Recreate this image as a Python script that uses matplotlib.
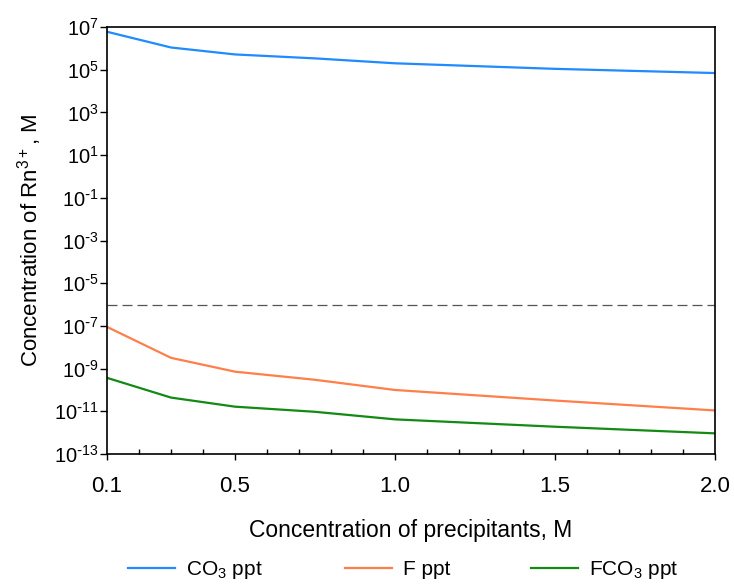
import matplotlib
matplotlib.use("Agg")
import matplotlib.pyplot as plt
from matplotlib.ticker import FixedLocator, MultipleLocator, FuncFormatter, FormatStrFormatter
import numpy as np

plt.rcParams['font.family'] = ['Liberation Sans', 'DejaVu Sans']
plt.rcParams['mathtext.default'] = 'regular'
plt.rcParams['axes.unicode_minus'] = False

# precipitant concentration, M
conc = [0.1, 0.3, 0.5, 0.75, 1.0, 1.5, 2.0]

# remaining Rn3+ concentration for each precipitant, M
co3_ppt = [6.0e6, 1.1e6, 5.2e5, 3.4e5, 2.0e5, 1.1e5, 7.0e4]
f_ppt = [9.0e-8, 3.2e-9, 7.2e-10, 3.0e-10, 1.0e-10, 3.2e-11, 1.1e-11]
fco3_ppt = [3.7e-10, 4.4e-11, 1.65e-11, 9.5e-12, 4.2e-12, 1.9e-12, 9.3e-13]

limit = 1e-6  # dashed reference level
y_ticks = [10.0 ** p for p in range(-13, 8, 2)]
x_ticks = [0.1, 0.5, 1.0, 1.5, 2.0]


def pow10(val, pos):
    # power-of-ten label with a plain hyphen for negative exponents
    e = int(round(np.log10(val)))
    if e < 0:
        return r'$10^{\text{-}%d}$' % (-e)
    return r'$10^{%d}$' % e


fig = plt.figure(figsize=(7.34, 5.85), dpi=100)
ax = fig.add_axes([0.1458, 0.2239, 0.974 - 0.1458, 0.9538 - 0.2239])

ax.plot(conc, co3_ppt, color='#1f8bff', lw=1.6, label='CO$_3$ ppt')
ax.plot(conc, f_ppt, color='#ff7f4a', lw=1.6, label='F ppt')
ax.plot(conc, fco3_ppt, color='#138a13', lw=1.6, label='FCO$_3$ ppt')
ax.axhline(limit, color='#555555', lw=0.9, dashes=(8, 4))

ax.set_yscale('log')
ax.set_ylim(1e-13, 1e7)
ax.set_xlim(0.1, 2.0)

ax.yaxis.set_major_locator(FixedLocator(y_ticks))
ax.yaxis.set_major_formatter(FuncFormatter(pow10))
ax.yaxis.set_minor_locator(FixedLocator([]))
ax.xaxis.set_major_locator(FixedLocator(x_ticks))
ax.xaxis.set_major_formatter(FormatStrFormatter('%.1f'))
ax.xaxis.set_minor_locator(MultipleLocator(0.1))

ax.tick_params(axis='y', which='major', direction='out', length=5, width=1,
               labelsize=14.5, pad=1)
ax.tick_params(axis='x', which='major', direction='out', length=4.5, width=1,
               labelsize=16, pad=11)
ax.tick_params(axis='x', which='minor', direction='in', length=3.6, width=1)

for sp in ax.spines.values():
    sp.set_linewidth(1.2)
    sp.set_color('black')

ax.set_xlabel('Concentration of precipitants, M', fontsize=16.5, labelpad=16.5)
ax.set_ylabel('Concentration of Rn$^{3+}$, M', fontsize=16, labelpad=7)

fig.legend(loc='center', bbox_to_anchor=(0.55, 0.025), ncol=3, frameon=False,
           fontsize=15, handlelength=2.26, handletextpad=0.53, columnspacing=3.9)

fig.savefig('out.png', dpi=100)
